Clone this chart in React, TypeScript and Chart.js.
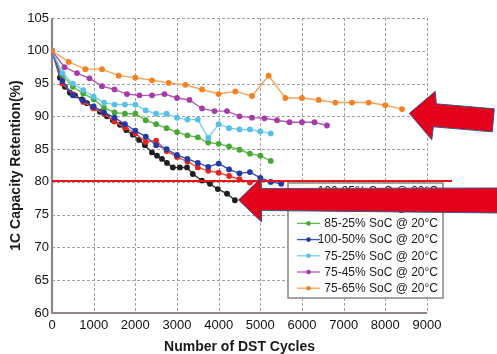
import React, { useEffect, useRef } from "react";
import { Chart, registerables } from "chart.js";

Chart.register(...registerables);

// ---- data ----
const xTicks = [0, 1000, 2000, 3000, 4000, 5000, 6000, 7000, 8000, 9000];
const yTicks = [60, 65, 70, 75, 80, 85, 90, 95, 100, 105];

const labels = [
  "100-25% SoC @ 20°C",
  "100-40% SoC @ 20°C",
  "85-25% SoC @ 20°C",
  "100-50% SoC @ 20°C",
  "75-25% SoC @ 20°C",
  "75-45% SoC @ 20°C",
  "75-65% SoC @ 20°C",
];

const blackCycles = [0, 190, 310, 430, 550, 720, 840, 980, 1150, 1320, 1460, 1630, 1780, 1940, 2090, 2230, 2400, 2520, 2640, 2760, 2900, 3070, 3240, 3380, 3600, 3790, 3980, 4200, 4390];
const blackValues = [100, 95.9, 94.5, 93.6, 93.2, 92.6, 92.0, 91.4, 90.7, 90.0, 89.4, 88.7, 87.9, 87.2, 86.4, 85.6, 84.5, 84.0, 83.5, 82.9, 82.2, 82.2, 82.2, 81.2, 80.2, 79.7, 78.9, 78.2, 77.2];

const redCycles = [0, 250, 500, 750, 1000, 1250, 1500, 1750, 2000, 2250, 2500, 2750, 3000, 3250, 3500, 3750, 4000, 4250, 4500, 4750];
const redValues = [100, 95.0, 93.4, 92.2, 91.2, 90.4, 89.2, 88.3, 87.4, 86.1, 86.3, 84.7, 83.8, 83.1, 82.2, 81.7, 81.4, 80.9, 80.4, 79.9];

const greenCycles = [0, 250, 500, 750, 1000, 1250, 1500, 1750, 2000, 2250, 2500, 2750, 3000, 3250, 3500, 3750, 4000, 4250, 4500, 4750, 5000, 5250];
const greenValues = [100, 96.3, 94.5, 93.5, 92.6, 91.3, 90.6, 90.4, 90.4, 89.4, 88.8, 88.2, 87.6, 87.1, 86.8, 86.0, 85.8, 85.4, 84.9, 84.3, 84.0, 83.2];

const blueCycles = [0, 250, 500, 750, 1000, 1250, 1500, 1750, 2000, 2250, 2500, 2750, 3000, 3250, 3500, 3750, 4000, 4250, 4500, 4750, 5000, 5250, 5500];
const blueValues = [100, 95.4, 93.2, 92.4, 91.5, 90.6, 89.8, 88.8, 87.8, 86.9, 85.6, 85.0, 84.1, 83.5, 82.9, 82.3, 82.8, 81.9, 81.3, 81.5, 80.6, 80.0, 79.7];

const cyanCycles = [0, 250, 500, 750, 1000, 1250, 1500, 1750, 2000, 2250, 2500, 2750, 3000, 3250, 3500, 3750, 4000, 4250, 4500, 4750, 5000, 5250];
const cyanValues = [100, 96.6, 95.0, 94.0, 93.0, 92.1, 91.8, 91.8, 91.8, 90.9, 90.4, 90.4, 89.8, 89.5, 89.5, 86.7, 88.8, 88.2, 88.0, 88.0, 87.7, 87.4];

const magentaCycles = [0, 300, 600, 900, 1200, 1500, 1800, 2100, 2400, 2700, 3000, 3300, 3600, 3900, 4200, 4500, 4800, 5100, 5400, 5700, 6000, 6300, 6600];
const magentaValues = [100, 97.5, 96.6, 95.8, 94.6, 94.1, 93.4, 93.2, 93.2, 93.4, 92.8, 92.5, 91.2, 90.8, 90.8, 90.0, 89.8, 89.7, 89.4, 89.1, 89.1, 89.1, 88.6];

const orangeCycles = [0, 400, 800, 1200, 1600, 2000, 2400, 2800, 3200, 3600, 4000, 4400, 4800, 5200, 5600, 6000, 6400, 6800, 7200, 7600, 8000, 8400];
const orangeValues = [100, 98.3, 97.2, 97.2, 96.2, 95.9, 95.5, 95.1, 94.8, 94.1, 93.4, 93.8, 93.1, 96.2, 92.8, 92.8, 92.5, 92.1, 92.1, 92.1, 91.7, 91.1];

const lineColors = ["#3a3a3a", "#ee5048", "#62b94e", "#3b52b8", "#79cfee", "#b45ab4", "#f9a255"];
const pointColors = ["#1e1e1e", "#e8231c", "#47a832", "#2238a6", "#55c0e8", "#a63aa6", "#f4801f"];

// annotation anchors (data coordinates)
const thresholdValue = 80.14;
const thresholdEnd = 9600;
const arrow1Tip = { x: 8575, y: 90.46 };
const arrow2Tip = { x: 4476, y: 77.24 };

const seriesCycles = [blackCycles, redCycles, greenCycles, blueCycles, cyanCycles, magentaCycles, orangeCycles];
const seriesValues = [blackValues, redValues, greenValues, blueValues, cyanValues, magentaValues, orangeValues];

const FONT = "'Liberation Sans', Arial, sans-serif";

const overlayPlugin = {
  id: "overlay",
  beforeDatasetsDraw(chart: any) {
    const ctx = chart.ctx;
    const { left, right, top, bottom } = chart.chartArea;
    const xs = chart.scales.x;
    const ys = chart.scales.y;
    ctx.save();
    ctx.setLineDash([3, 2]);
    ctx.strokeStyle = "#a0a0a0";
    ctx.lineWidth = 1;
    for (let i = 1; i < xTicks.length; i++) {
      const px = Math.round(xs.getPixelForValue(xTicks[i])) + 0.5;
      ctx.beginPath();
      ctx.moveTo(px, top);
      ctx.lineTo(px, bottom);
      ctx.stroke();
    }
    for (let i = 1; i < yTicks.length; i++) {
      const py = Math.round(ys.getPixelForValue(yTicks[i])) + 0.5;
      ctx.beginPath();
      ctx.moveTo(left, py);
      ctx.lineTo(right, py);
      ctx.stroke();
    }
    ctx.setLineDash([]);
    // axes
    ctx.strokeStyle = "#8f8585";
    ctx.lineWidth = 2.2;
    ctx.beginPath();
    ctx.moveTo(left, top);
    ctx.lineTo(left, bottom);
    ctx.lineTo(right, bottom);
    ctx.stroke();
    ctx.restore();
  },
  afterDatasetsDraw(chart: any) {
    const ctx = chart.ctx;
    // legend box
    const bx = 288, by = 183, bw = 155, bh = 115;
    ctx.save();
    ctx.fillStyle = "#ffffff";
    ctx.fillRect(bx, by, bw, bh);
    ctx.strokeStyle = "#8a8484";
    ctx.lineWidth = 1.5;
    ctx.strokeRect(bx, by, bw, bh);
    ctx.font = `12px ${FONT}`;
    ctx.textAlign = "right";
    ctx.textBaseline = "middle";
    labels.forEach((lab, i) => {
      const ry = by + 8 + i * 16.2;
      ctx.strokeStyle = lineColors[i];
      ctx.lineWidth = 1.3;
      ctx.beginPath();
      ctx.moveTo(297, ry);
      ctx.lineTo(320, ry);
      ctx.stroke();
      ctx.fillStyle = pointColors[i];
      ctx.beginPath();
      ctx.arc(308.5, ry, 2.3, 0, Math.PI * 2);
      ctx.fill();
      ctx.fillStyle = "#1a1a1a";
      ctx.fillText(lab, 438, ry + 0.5);
    });
    ctx.restore();
  },
  afterDraw(chart: any) {
    const ctx = chart.ctx;
    const xs = chart.scales.x;
    const ys = chart.scales.y;
    ctx.save();
    // red threshold line
    const ly = ys.getPixelForValue(thresholdValue);
    ctx.strokeStyle = "#e8141c";
    ctx.lineWidth = 2;
    ctx.beginPath();
    ctx.moveTo(xs.getPixelForValue(0), ly);
    ctx.lineTo(xs.getPixelForValue(thresholdEnd), ly);
    ctx.stroke();

    const drawArrow = (tip: any, pts: number[][]) => {
      const tx = xs.getPixelForValue(tip.x);
      const ty = ys.getPixelForValue(tip.y);
      ctx.beginPath();
      ctx.moveTo(tx, ty);
      pts.forEach(([dx, dy]) => ctx.lineTo(tx + dx, ty + dy));
      ctx.closePath();
      ctx.fillStyle = "#e3001b";
      ctx.fill();
      ctx.strokeStyle = "#35578f";
      ctx.lineWidth = 1;
      ctx.stroke();
    };
    drawArrow(arrow1Tip, [
      [26, -22],
      [27, -9.5],
      [85, -4.5],
      [83, 18.5],
      [24, 13.5],
      [22.5, 26.5],
    ]);
    drawArrow(arrow2Tip, [
      [22.5, -22],
      [23, -11.5],
      [262, -12],
      [262, 13],
      [23, 10.5],
      [23, 22],
    ]);
    ctx.restore();
  },
};

export default function App() {
  const ref = useRef<HTMLCanvasElement | null>(null);

  useEffect(() => {
    document.body.style.margin = "0";
    const canvas = ref.current;
    if (!canvas) return;
    const datasets = labels.map((lab, i) => ({
      label: lab,
      data: seriesCycles[i].map((c, j) => ({ x: c, y: seriesValues[i][j] })),
      borderColor: lineColors[i],
      backgroundColor: pointColors[i],
      pointBackgroundColor: pointColors[i],
      pointBorderWidth: 0,
      pointRadius: 2.9,
      borderWidth: 1.4,
      tension: 0,
      order: 7 - i,
    }));
    const chart = new Chart(canvas, {
      type: "line",
      data: { datasets },
      options: {
        animation: false,
        responsive: false,
        devicePixelRatio: 1,
        layout: { padding: { top: 18, right: 70, left: 0, bottom: 0 } },
        plugins: { legend: { display: false }, tooltip: { enabled: false } },
        scales: {
          x: {
            type: "linear",
            min: 0,
            max: 9000,
            afterFit: (s: any) => { s.height = 41; },
            afterBuildTicks: (s: any) => { s.ticks = xTicks.map((v) => ({ value: v })); },
            ticks: {
              padding: 5,
              color: "#111111",
              font: { family: FONT, size: 13 },
              maxRotation: 0,
              autoSkip: false,
              callback: (v: any) => String(v),
            },
            grid: { display: false, drawTicks: false },
            border: { display: false },
            title: {
              display: true,
              text: "Number of DST Cycles",
              color: "#1a1a1a",
              font: { family: FONT, size: 14, weight: "bold", lineHeight: 1 },
              padding: { top: 0, bottom: 0 },
            },
          },
          y: {
            type: "linear",
            min: 60,
            max: 105,
            afterFit: (s: any) => { s.width = 52; },
            afterBuildTicks: (s: any) => { s.ticks = yTicks.map((v) => ({ value: v })); },
            ticks: {
              padding: 3,
              color: "#111111",
              font: { family: FONT, size: 13 },
              autoSkip: false,
              callback: (v: any) => String(v),
            },
            grid: { display: false, drawTicks: false },
            border: { display: false },
            title: {
              display: true,
              text: "1C Capacity Retention(%)",
              color: "#1a1a1a",
              font: { family: FONT, size: 14, weight: "bold", lineHeight: 1.2 },
              padding: { top: 7.6, bottom: 0 },
            },
          },
        },
      },
      plugins: [overlayPlugin],
    } as any);
    return () => chart.destroy();
  }, []);

  return (
    <div style={{ width: 497, height: 354, background: "#fff" }}>
      <canvas ref={ref} width={497} height={354} style={{ display: "block" }} />
    </div>
  );
}
